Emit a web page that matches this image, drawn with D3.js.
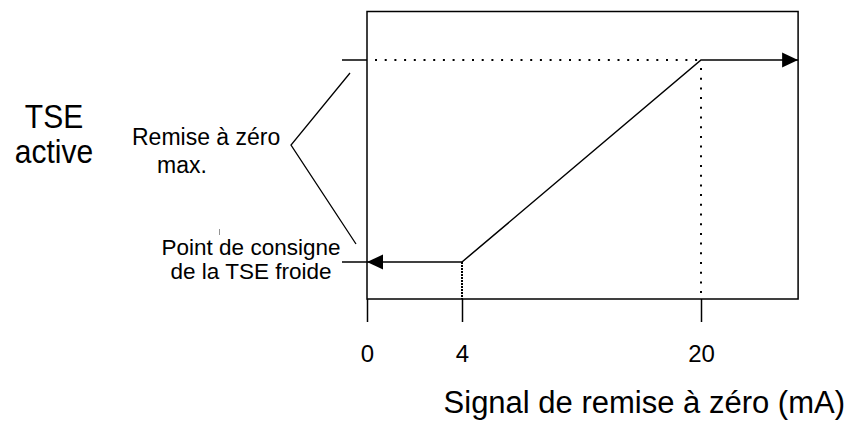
<!DOCTYPE html>
<html>
<head>
<meta charset="utf-8">
<script src="https://cdn.jsdelivr.net/npm/d3@7"></script>
<style>
  body { margin: 0; background: #fff; }
  text { font-family: "Liberation Sans", Arial, sans-serif; fill: #000; }
</style>
</head>
<body>
<div id="chart"></div>
<script>
// data
var tickValues = [0, 4, 20];
var signalMA = [0, 4, 20, 26.5];      // mA, last point = right edge of frame
var resetLevel = [0, 0, 1, 1];        // 0 = consigne TSE froide, 1 = remise max.
var yLabelLines = ["TSE", "active"];
var maxLabelLines = ["Remise à zéro", "max."];
var minLabelLines = ["Point de consigne", "de la TSE froide"];
var xTitle = "Signal de remise à zéro (mA)";

var width = 850, height = 430;

var svg = d3.select("#chart").append("svg")
    .attr("width", width)
    .attr("height", height);

//scales (piecewise, the figure is not to scale)
var x = d3.scaleLinear().domain([0, 4, 20]).range([367, 462, 701]);
var y = d3.scaleLinear().domain([0, 1]).range([262, 60]);

var frameTop = 11.5, frameBottom = 299;
var xEnd = x(signalMA[signalMA.length - 1]);

//text drawn a bit taller than wide, like the original picture
function label(x0, y0, size, sy, anchor) {
  return svg.append("text")
      .attr("transform", "translate(" + x0 + "," + y0 + ") scale(1," + sy + ")")
      .attr("text-anchor", anchor || "start")
      .attr("font-size", size);
}

var defs = svg.append("defs");
defs.append("marker")
    .attr("id", "arrow")
    .attr("viewBox", "0 0 16 16")
    .attr("refX", 16).attr("refY", 8)
    .attr("markerWidth", 16).attr("markerHeight", 16)
    .attr("markerUnits", "userSpaceOnUse")
    .attr("orient", "auto")
  .append("path")
    .attr("d", "M0,0.5 L16,8 L0,15.5 Z")
    .attr("fill", "#000");

//frame
svg.append("rect")
    .attr("x", x(0))
    .attr("y", frameTop)
    .attr("width", xEnd - x(0))
    .attr("height", frameBottom - frameTop)
    .attr("fill", "none")
    .attr("stroke", "#000")
    .attr("stroke-width", 1.5);

//bottom axis
var axis = svg.append("g")
    .attr("transform", "translate(0," + frameBottom + ")")
    .call(d3.axisBottom(x).tickValues(tickValues).tickSize(23).tickPadding(0).tickSizeOuter(0));
axis.select(".domain").remove();
axis.selectAll(".tick line").attr("stroke", "#000").attr("stroke-width", 1.5);
axis.selectAll(".tick text")
    .attr("y", null).attr("dy", null)
    .attr("transform", "translate(0,63)")
    .attr("font-size", 24)
    .attr("font-family", "Liberation Sans, Arial, sans-serif");

//dotted guides
var dots = svg.append("g").attr("stroke", "#000").attr("fill", "none");
dots.append("line")
    .attr("x1", x(0) + 8).attr("x2", x(20))
    .attr("y1", y(1)).attr("y2", y(1))
    .attr("stroke-width", 2)
    .attr("stroke-dasharray", "2 7.7");
dots.append("line")
    .attr("x1", x(20)).attr("x2", x(20))
    .attr("y1", y(1) + 8).attr("y2", frameBottom)
    .attr("stroke-width", 2)
    .attr("stroke-dasharray", "2 7.7");
dots.append("line")
    .attr("x1", x(4)).attr("x2", x(4))
    .attr("y1", y(0)).attr("y2", frameBottom)
    .attr("stroke-width", 2)
    .attr("stroke-dasharray", "2 1");

//reset curve
var pts = signalMA.map(function(d, i) { return [x(d), y(resetLevel[i])]; });
var line = d3.line();
svg.append("path")
    .attr("d", line(pts.slice(1)))
    .attr("fill", "none")
    .attr("stroke", "#000")
    .attr("stroke-width", 1.5)
    .attr("marker-end", "url(#arrow)");
svg.append("path")
    .attr("d", line([pts[1], pts[0]]))
    .attr("fill", "none")
    .attr("stroke", "#000")
    .attr("stroke-width", 1.5)
    .attr("marker-end", "url(#arrow)");

//level ticks / pointers left of frame
svg.append("line")
    .attr("x1", x(0) - 25).attr("x2", x(0))
    .attr("y1", y(1)).attr("y2", y(1))
    .attr("stroke", "#000").attr("stroke-width", 1.5);
svg.append("line")
    .attr("x1", x(0) - 25).attr("x2", x(0))
    .attr("y1", y(0)).attr("y2", y(0))
    .attr("stroke", "#000").attr("stroke-width", 1.5);

//bracket
svg.append("path")
    .attr("d", "M350,73 L291,145 L356,244")
    .attr("fill", "none")
    .attr("stroke", "#000")
    .attr("stroke-width", 1.3);

//labels
label(54, 128, 30, 1.08, "middle").text(yLabelLines[0]);
label(54, 163, 30, 1.08, "middle").text(yLabelLines[1]);

label(132, 145, 23, 1.04).text(maxLabelLines[0]);
label(157, 173, 23, 1.04).text(maxLabelLines[1]);

label(251, 255, 22.5, 1, "middle").text(minLabelLines[0]);
label(251, 279, 22.5, 1, "middle").text(minLabelLines[1]);

//stray mark in original
svg.append("line")
    .attr("x1", 219.5).attr("x2", 219.5)
    .attr("y1", 229).attr("y2", 235)
    .attr("stroke", "#777").attr("stroke-width", 0.8);

label(845, 413, 31, 1, "end").text(xTitle);
</script>
</body>
</html>
